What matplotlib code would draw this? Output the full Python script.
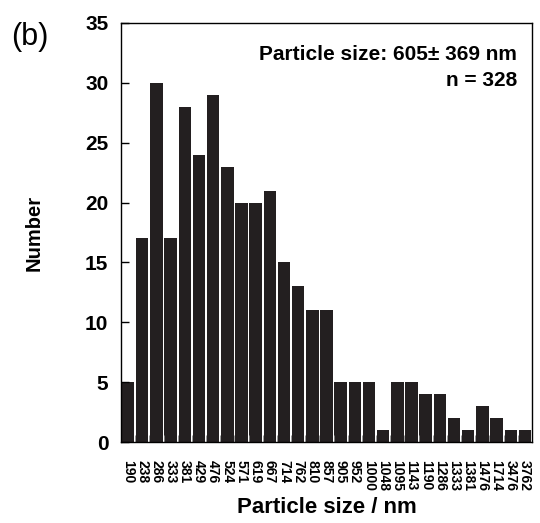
import numpy as np
import matplotlib.pyplot as plt

plt.rcParams['font.family'] = ['Liberation Sans', 'DejaVu Sans']

sizes = ['190', '238', '286', '333', '381', '429', '476', '524', '571', '619',
         '667', '714', '762', '810', '857', '905', '952', '1000', '1048', '1095',
         '1143', '1190', '1286', '1333', '1381', '1476', '1714', '3476', '3762']
counts = [5, 17, 30, 17, 28, 24, 29, 23, 20, 20,
          21, 15, 13, 11, 11, 5, 5, 5, 1, 5,
          5, 4, 4, 2, 1, 3, 2, 1, 1]

fig = plt.figure(figsize=(5.4, 5.23), dpi=100)
ax = fig.add_axes([121/540, 1 - 442/523, 411/540, 419/523])

x = np.arange(len(counts))
ax.bar(x, counts, width=0.88, color='#231f20', edgecolor='none')

ax.set_xlim(-0.5, len(counts) - 0.5)
ax.set_ylim(0, 35)
ax.set_yticks(range(0, 36, 5))
ax.tick_params(axis='y', direction='in', length=6, width=1, labelsize=15, pad=9)
for lab in ax.get_yticklabels():
    lab.set_fontweight('bold')

ax.set_xticks(x)
ax.set_xticklabels(sizes, rotation=-90, fontsize=10, fontweight='bold')
ax.tick_params(axis='x', length=0, pad=13)
ax.set_xticks(x[:-1] + 0.5, minor=True)
ax.tick_params(axis='x', which='minor', direction='in', length=5, color='#888888')

for s in ax.spines.values():
    s.set_linewidth(1)

ax.set_ylabel('Number', fontsize=14.5, fontweight='bold', labelpad=30)
ax.set_xlabel('Particle size / nm', fontsize=16, fontweight='bold', labelpad=4)

ax.text(0.963, 0.924, 'Particle size: 605\u00b1 369 nm', transform=ax.transAxes,
        ha='right', va='center', fontsize=15, fontweight='bold')
ax.text(0.963, 0.862, 'n = 328', transform=ax.transAxes,
        ha='right', va='center', fontsize=15, fontweight='bold')

fig.text(11/540, 1 - 37/523, '(b)', fontsize=22, ha='left', va='center')

fig.savefig('out.png', dpi=100)
